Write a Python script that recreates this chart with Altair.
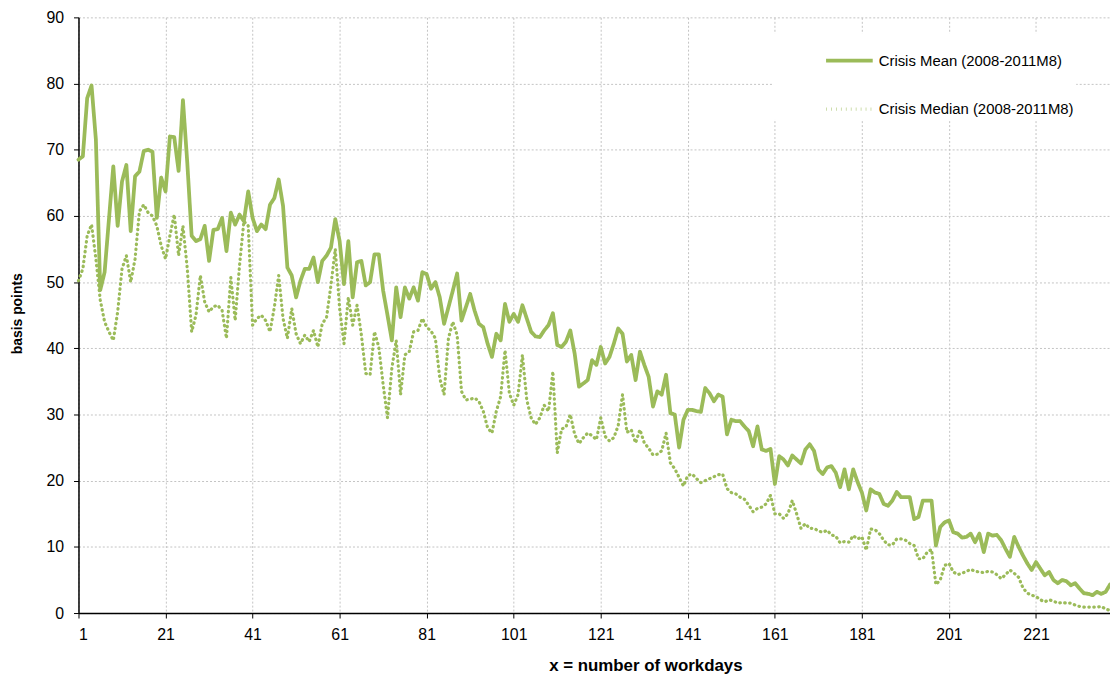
import altair as alt
import pandas as pd

# x = number of workdays
workdays = list(range(1, 239))

mean_bp = [
    68.5, 69, 77.8, 79.7, 71.5, 48.8, 51.5, 59.5, 67.5, 58.5,
    65.2, 67.7, 57.7, 66, 66.7, 69.8, 70, 69.7, 59.7, 65.8,
    63.7, 72, 71.9, 66.8, 77.5, 68, 57, 56.2, 56.5, 58.5,
    53.2, 57.9, 58, 59.7, 54.7, 60.5, 58.7, 60.2, 59.2, 63.7,
    59.7, 57.7, 58.7, 58, 61.7, 62.7, 65.5, 61.5, 52.2, 51,
    47.7, 50.2, 52, 52, 53.7, 50, 53.2, 54, 55.2, 59.5,
    56.2, 49.7, 56.2, 47.7, 53, 53.2, 49.5, 50, 54.2, 54.2,
    48.7, 45, 41.2, 49.2, 44.7, 49.2, 47.5, 49.2, 47.2, 51.5,
    51.2, 49, 50, 47.7, 43.7, 46.2, 48.7, 51.3, 44.2, 46.2,
    48.2, 45.7, 43.7, 43.2, 40.7, 38.7, 42.2, 41.2, 46.7, 44,
    45.2, 44, 46.5, 44.5, 42.5, 41.8, 41.7, 42.7, 43.5, 45.3,
    40.5, 40.2, 41, 42.7, 39.2, 34.2, 34.7, 35.2, 38.2, 37.5,
    40.2, 37.7, 38.7, 40.7, 43, 42.2, 38, 39, 35.2, 39.5,
    37.5, 35.7, 31.2, 33.5, 33, 36, 30.2, 30, 25, 29.2,
    30.7, 30.7, 30.5, 30.4, 34, 33.2, 32, 33, 32.7, 27,
    29.2, 29, 29, 28.2, 27.5, 25.2, 28.2, 24.7, 24.5, 24.8,
    19.5, 23.7, 23.2, 22.3, 23.8, 23.2, 22.6, 24.7, 25.5, 24.5,
    21.7, 21, 22, 22.2, 21.2, 19, 21.7, 18.7, 21.7, 19.8,
    18.2, 15.5, 18.7, 18.2, 18, 16.5, 16.2, 17, 18.3, 17.5,
    17.5, 17.5, 14.2, 14.5, 17, 17, 17, 10.2, 13, 13.7,
    14, 12.2, 12, 11.4, 11.5, 12, 10.7, 12, 9.2, 12,
    11.7, 11.8, 11, 9.7, 8.5, 11.5, 10, 8.7, 7.5, 6.5,
    7.7, 6.7, 5.7, 6.2, 5, 4.5, 5, 4.8, 4.2, 4.5,
    3.7, 3, 2.9, 2.7, 3.2, 2.9, 3.2, 4.3,
]

median_bp = [
    50.2, 52, 57, 58.7, 53.5, 47.3, 44, 42.5, 41.2, 45.5,
    52, 54, 50, 53.5, 60.7, 61.7, 60.5, 60, 58.5, 55.5,
    53.5, 57, 60.2, 54, 58.5, 52, 42.5, 45, 51, 47,
    45.5, 46.3, 46.5, 45.7, 41.5, 50.7, 44.2, 52.5, 59.2, 58.5,
    43.5, 44.5, 45, 44.2, 42.5, 46.2, 51, 44.5, 41.5, 46,
    42.2, 40.7, 42, 41, 42.7, 40.2, 43.7, 44.7, 49.5, 55,
    46, 40.7, 47.7, 43.5, 46.5, 42, 36.2, 36, 42.5, 40.2,
    34.5, 29.5, 37, 41.2, 33, 39, 39.5, 42.5, 42.7, 44.5,
    43.2, 42.6, 41.5, 35.5, 33, 41.5, 44, 42, 33.5, 32.2,
    32.3, 32.5, 32, 30.5, 28, 27.2, 30.5, 32.7, 39.7, 33.2,
    31.4, 33, 39, 32.2, 29.5, 28.5, 29.5, 31.4, 30.5, 36.5,
    24.2, 27.8, 28.1, 30, 27, 25.6, 26.5, 27.2, 26.8, 26.2,
    29.5, 26.7, 26, 26.5, 28.3, 33, 27.3, 27.7, 25.7, 27.7,
    25.7, 24.9, 23.9, 24, 24.5, 27.2, 22.7, 21.8, 20.5, 19.2,
    20.8, 21, 20.3, 19.7, 20, 20.3, 20.6, 20.9, 21, 18.8,
    18.2, 18, 17.5, 17.2, 16.3, 15.3, 15.8, 16, 16.5, 17.8,
    15, 15, 14.3, 15, 17, 15, 12.8, 13.5, 12.8, 12.8,
    12.4, 12.2, 12.5, 11.8, 11.6, 10.6, 10.8, 10.7, 11.7, 11.2,
    11.5, 9.5, 12.7, 12.6, 12, 11, 10.3, 10.3, 11.2, 11.2,
    11, 10.5, 10.2, 8.2, 8.2, 9.2, 9.6, 4.3, 5, 7.2,
    7.5, 6.2, 5.8, 6, 6.3, 6.6, 6.3, 6.2, 6.1, 6.3,
    6.2, 5.8, 5.2, 5.8, 6.5, 6, 5.4, 3.8, 3, 2.7,
    2.5, 2, 1.7, 2, 1.8, 1.5, 1.6, 1.5, 1.5, 1.2,
    1, 0.9, 0.9, 0.9, 0.9, 1, 0.6, 0.4,
]

series_names = ["Crisis Mean (2008-2011M8)", "Crisis Median (2008-2011M8)"]
x_ticks = [1, 21, 41, 61, 81, 101, 121, 141, 161, 181, 201, 221]
y_ticks = [0, 10, 20, 30, 40, 50, 60, 70, 80, 90]

rows = []
for name, vals in zip(series_names, [mean_bp, median_bp]):
    for d, v in zip(workdays, vals):
        rows.append({"day": d, "bp": v, "series": name})
df = pd.DataFrame(rows)

GREEN = "#9BBB59"
FONT = "Liberation Sans"

chart = (
    alt.Chart(df)
    .mark_line(color=GREEN, strokeCap="round", strokeJoin="round")
    .encode(
        x=alt.X(
            "day:Q",
            scale=alt.Scale(domain=[1, 238], nice=False, zero=False),
            axis=alt.Axis(
                values=x_ticks,
                title="x = number of workdays",
                titleX=571,
                titleY=53,
                titleAlign="center",
                titleBaseline="middle",
                labelPadding=9,
            ),
        ),
        y=alt.Y(
            "bp:Q",
            scale=alt.Scale(domain=[0, 90], nice=False),
            axis=alt.Axis(
                values=y_ticks,
                title="basis points",
                titleX=-61,
                titleY=298,
                titleAngle=270,
                titleAlign="center",
                titleBaseline="middle",
                titleFontSize=14,
                labelPadding=10,
            ),
        ),
        strokeDash=alt.StrokeDash(
            "series:N",
            scale=alt.Scale(domain=series_names, range=[[1, 0], [0.5, 4.5]]),
            legend=alt.Legend(
                title=None,
                orient="none",
                legendX=700,
                legendY=16,
                fillColor="white",
                padding=2,
                symbolType="stroke",
                symbolSize=2209,
                symbolStrokeWidth=3.5,
                symbolStrokeColor=GREEN,
                symbolOffset=49,
                labelFont=FONT,
                labelFontSize=15,
                labelColor="#000000",
                labelOffset=4,
                labelLimit=0,
                rowPadding=15,
            ),
        ),
        strokeWidth=alt.StrokeWidth(
            "series:N",
            scale=alt.Scale(domain=series_names, range=[3.8, 3.2]),
            legend=None,
        ),
    )
    .properties(
        width=1039,
        height=600,
        autosize=alt.AutoSizeParams(type="none"),
        padding={"left": 71, "top": 7, "right": 0, "bottom": 65},
    )
    .configure_view(stroke=None)
    .configure_axis(
        domainColor="#000000",
        domainWidth=1.5,
        tickColor="#000000",
        tickSize=5,
        tickWidth=1,
        grid=True,
        gridColor="#c4c4c4",
        gridDash=[2, 2],
        gridWidth=1,
        labelFont=FONT,
        labelFontSize=16,
        labelColor="#000000",
        titleFont=FONT,
        titleFontSize=17,
        titleFontWeight="bold",
        titleColor="#000000",
    )
)

chart.save("out.html", embed_options={"renderer": "svg", "actions": False})
